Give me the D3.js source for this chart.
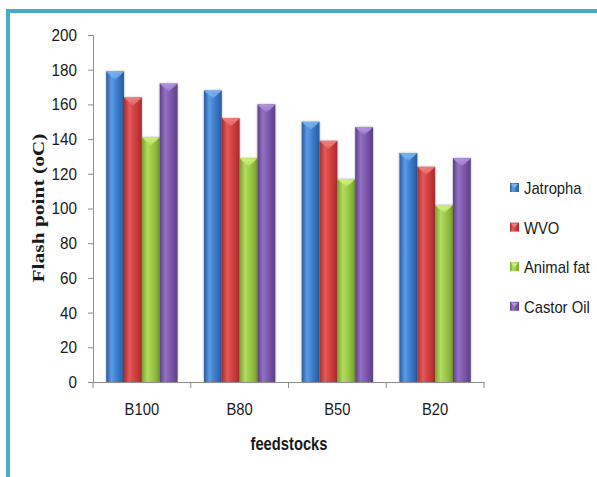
<!DOCTYPE html>
<html>
<head>
<meta charset="utf-8">
<script src="https://cdn.jsdelivr.net/npm/d3@7"></script>
<style>
  html, body { margin: 0; padding: 0; background: #fff; }
  svg { display: block; }
  text { font-family: "Liberation Sans", Arial, sans-serif; fill: #1a1a1a; }
</style>
</head>
<body>
<svg id="chart" width="597" height="477"></svg>
<script>
// Flash point of biodiesel blends by feedstock
const blends = ["B100", "B80", "B50", "B20"];
const seriesNames = ["Jatropha", "WVO", "Animal fat", "Castor Oil"];
const jatropha = [179, 168, 150, 132];
const wvo = [164, 152, 139, 124];
const animalFat = [141, 129, 117, 102];
const castorOil = [172, 160, 147, 129];
const yTicks = [0, 20, 40, 60, 80, 100, 120, 140, 160, 180, 200];
const seriesValues = [jatropha, wvo, animalFat, castorOil];

const palette = [
  { base: "#3a78c8", light: "#5b9be6", dark: "#2a5b9c", cap: "#7ab3f0" },
  { base: "#d03c3c", light: "#e35a5a", dark: "#a82c2c", cap: "#f08080" },
  { base: "#97c444", light: "#b2dc5c", dark: "#76a030", cap: "#cdee7a" },
  { base: "#7a55a8", light: "#9470c4", dark: "#5c3f84", cap: "#b393e0" }
];

// horizontal squeeze for a condensed look of the labels
const narrow = 0.87;

const svg = d3.select("#chart");
const defs = svg.append("defs");

// Cylinder-like shading across each bar
palette.forEach((c, i) => {
  const g = defs.append("linearGradient").attr("id", "bar" + i)
    .attr("x1", "0").attr("x2", "1").attr("y1", "0").attr("y2", "0");
  g.append("stop").attr("offset", "0").attr("stop-color", c.dark);
  g.append("stop").attr("offset", "0.3").attr("stop-color", c.light);
  g.append("stop").attr("offset", "0.65").attr("stop-color", c.base);
  g.append("stop").attr("offset", "1").attr("stop-color", c.dark);
  const t = defs.append("linearGradient").attr("id", "cap" + i)
    .attr("x1", "0").attr("x2", "0").attr("y1", "0").attr("y2", "1");
  t.append("stop").attr("offset", "0").attr("stop-color", c.cap);
  t.append("stop").attr("offset", "1").attr("stop-color", c.light);
});
const sh = defs.append("filter").attr("id", "shadow")
  .attr("x", "-30%").attr("y", "-10%").attr("width", "160%").attr("height", "120%");
sh.append("feDropShadow").attr("dx", 0).attr("dy", 0).attr("stdDeviation", 1.2)
  .attr("flood-color", "#000").attr("flood-opacity", 0.35);

// Outer frame
svg.append("path")
  .attr("d", "M8,480 L8,11 L600,11")
  .attr("fill", "none").attr("stroke", "#4aacc6").attr("stroke-width", 4);

const plot = { left: 93, right: 484, top: 35, bottom: 382 };

const x0 = d3.scaleBand().domain(blends).range([plot.left, plot.right]).padding(0);
const groupPad = x0.bandwidth() * 0.135;
const x1 = d3.scaleBand().domain(d3.range(seriesNames.length))
  .range([groupPad, x0.bandwidth() - groupPad]).padding(0);
const y = d3.scaleLinear().domain([0, 200]).range([plot.bottom, plot.top]);

// Y axis
const yAxis = svg.append("g").attr("transform", `translate(${plot.left},0)`)
  .call(d3.axisLeft(y).tickValues(yTicks).tickSize(5).tickPadding(9));
yAxis.select(".domain").attr("stroke", "#8c8c8c");
yAxis.selectAll(".tick line").attr("stroke", "#8c8c8c");
yAxis.selectAll(".tick text").attr("font-size", 17).attr("fill", "#1a1a1a")
  .attr("font-family", "Liberation Sans, sans-serif")
  .attr("x", -16 / 0.9)
  .attr("transform", "scale(0.9,1)");

// Bars
const groups = svg.append("g").selectAll("g").data(blends).join("g")
  .attr("transform", d => `translate(${x0(d)},0)`);

groups.each(function (blend, bi) {
  const g = d3.select(this);
  seriesValues.forEach((vals, si) => {
    const v = vals[bi];
    const bx = x1(si), bw = x1.bandwidth();
    const top = y(v);
    const bar = g.append("g");
    bar.append("rect")
      .attr("x", bx).attr("y", top).attr("width", bw).attr("height", y(0) - top)
      .attr("fill", `url(#bar${si})`).attr("filter", "url(#shadow)");
    // bevelled top
    bar.append("path")
      .attr("d", `M${bx},${top} L${bx + bw},${top} L${bx + bw - 3},${top + 3} L${bx + 3},${top + 3} Z`)
      .attr("fill", palette[si].cap).attr("opacity", 0.9);
    bar.append("path")
      .attr("d", `M${bx + 3},${top + 3} L${bx + bw - 3},${top + 3} L${bx + bw / 2},${top + 8} Z`)
      .attr("fill", `url(#cap${si})`).attr("opacity", 0.95);
  });
});

// X axis
const xAxis = svg.append("g").attr("transform", `translate(0,${plot.bottom})`)
  .call(d3.axisBottom(x0).tickSize(0).tickPadding(21));
xAxis.select(".domain").attr("stroke", "#8c8c8c");
xAxis.selectAll(".tick text").attr("font-size", 17).attr("fill", "#1a1a1a")
  .attr("font-family", "Liberation Sans, sans-serif")
  .attr("transform", `scale(${narrow},1)`);
const bounds = blends.map(b => x0(b)).concat([x0.range()[1]]);
svg.append("g").selectAll("line").data(bounds).join("line")
  .attr("x1", d => d).attr("x2", d => d)
  .attr("y1", plot.bottom).attr("y2", plot.bottom + 6)
  .attr("stroke", "#8c8c8c");

// Axis titles
svg.append("text")
  .attr("transform", "translate(44,208) rotate(-90)")
  .attr("text-anchor", "middle")
  .attr("font-weight", "bold").attr("font-size", 16)
  .attr("textLength", 149).attr("lengthAdjust", "spacingAndGlyphs")
  .style("font-family", "'Liberation Serif', 'Times New Roman', serif")
  .text("Flash point  (oC)");

svg.append("text")
  .attr("transform", "translate(289,450) scale(0.82,1)")
  .attr("text-anchor", "middle")
  .attr("font-weight", "bold").attr("font-size", 18)
  .text("feedstocks");

// Legend
const legend = svg.append("g").attr("transform", "translate(510,188)");
const items = legend.selectAll("g").data(seriesNames).join("g")
  .attr("transform", (d, i) => `translate(0,${i * 39.6})`);
items.append("rect").attr("x", 0).attr("y", -5).attr("width", 9).attr("height", 9)
  .attr("fill", (d, i) => `url(#bar${i})`);
items.append("path").attr("d", "M1,-4 L8,-4 L4.5,0 Z")
  .attr("fill", (d, i) => palette[i].cap);
items.append("text")
  .attr("transform", `translate(14,0) scale(${narrow},1)`)
  .attr("dy", "0.35em")
  .attr("font-size", 17).text(d => d);
</script>
</body>
</html>
